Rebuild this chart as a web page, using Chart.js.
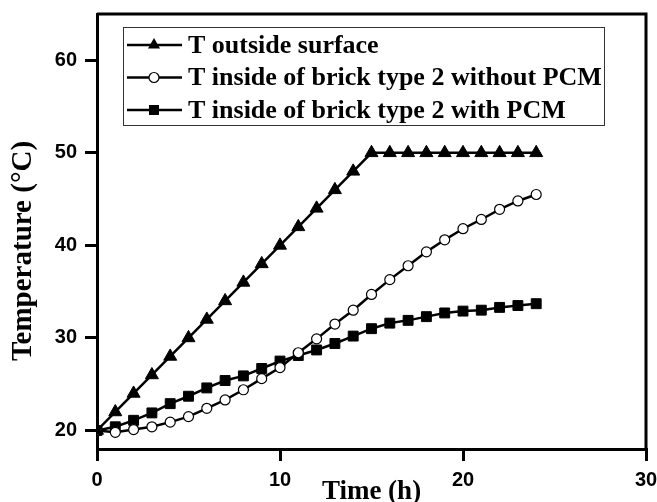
<!DOCTYPE html>
<html>
<head>
<meta charset="utf-8">
<script src="https://cdn.jsdelivr.net/npm/chart.js@4/dist/chart.umd.min.js"></script>
<style>
  html, body { margin: 0; padding: 0; background: #fff; }
  #wrap { width: 657px; height: 502px; position: relative; }
</style>
</head>
<body>
<div id="wrap"><canvas id="chart" width="657" height="502"></canvas></div>
<script>
// hours 0..24
const hours = [0, 1, 2, 3, 4, 5, 6, 7, 8, 9, 10, 11, 12, 13, 14, 15, 16, 17, 18, 19, 20, 21, 22, 23, 24];
const tOutside = [20, 22, 24, 26, 28, 30, 32, 34, 36, 38, 40, 42, 44, 46, 48, 50, 50, 50, 50, 50, 50, 50, 50, 50, 50];
const tWithoutPcm = [20, 19.8, 20.1, 20.4, 20.9, 21.5, 22.4, 23.3, 24.4, 25.6, 26.8, 28.4, 29.9, 31.5, 33.0, 34.7, 36.3, 37.8, 39.3, 40.6, 41.8, 42.8, 43.9, 44.8, 45.5];
const tWithPcm = [20, 20.4, 21.1, 21.9, 22.9, 23.7, 24.6, 25.4, 25.9, 26.7, 27.5, 28.1, 28.7, 29.4, 30.2, 31.0, 31.6, 31.9, 32.3, 32.7, 32.9, 33.0, 33.3, 33.5, 33.7];

const seriesLabels = ['T outside surface', 'T inside of brick type 2 without PCM', 'T inside of brick type 2 with PCM'];
const xTicks = [0, 10, 20, 30];
const yTicks = [20, 30, 40, 50, 60];

function toPoints(values) {
    return hours.map((h, i) => ({ x: h, y: values[i] }));
}

function drawMarker(ctx, style, x, y) {
    ctx.save();
    ctx.lineWidth = 1.2;
    ctx.strokeStyle = '#000';
    ctx.beginPath();
    if (style === 'triangle') {
        const r = 7;
        ctx.moveTo(x, y - r);
        ctx.lineTo(x + r * 0.866, y + r * 0.5);
        ctx.lineTo(x - r * 0.866, y + r * 0.5);
        ctx.closePath();
        ctx.fillStyle = '#000';
        ctx.fill();
    } else if (style === 'circle') {
        ctx.arc(x, y, 5, 0, Math.PI * 2);
        ctx.fillStyle = '#fff';
        ctx.fill();
        ctx.stroke();
    } else {
        ctx.rect(x - 5, y - 5, 10, 10);
        ctx.fillStyle = '#000';
        ctx.fill();
    }
    ctx.restore();
}

// frame on top/right, boxed legend, rotated y title
const framePlugin = {
    id: 'frame',
    afterDraw(chart) {
        const { ctx, chartArea } = chart;
        ctx.save();
        ctx.strokeStyle = '#000';
        ctx.lineWidth = 3;
        ctx.beginPath();
        ctx.moveTo(chartArea.left, chartArea.top);
        ctx.lineTo(chartArea.right, chartArea.top);
        ctx.lineTo(chartArea.right, chartArea.bottom);
        ctx.stroke();

        // legend
        const lx = 123, ly = 27, lw = 481, lh = 98;
        ctx.lineWidth = 1;
        ctx.strokeStyle = '#333';
        ctx.strokeRect(lx + 0.5, ly + 0.5, lw, lh);
        ctx.font = 'bold 26px "Liberation Serif", "Times New Roman", serif';
        ctx.textBaseline = 'middle';
        ctx.fillStyle = '#000';
        chart.data.datasets.forEach((ds, i) => {
            const y = 45 + i * 32.5;
            ctx.strokeStyle = '#000';
            ctx.lineWidth = 2.5;
            ctx.beginPath();
            ctx.moveTo(127, y);
            ctx.lineTo(182, y);
            ctx.stroke();
            drawMarker(ctx, ds.pointStyle, 154, y);
            ctx.fillText(ds.label, 188, y + 1);
        });

        // y title
        ctx.translate(24, 251);
        ctx.rotate(-Math.PI / 2);
        ctx.textAlign = 'center';
        ctx.font = 'bold 29px "Liberation Serif", "Times New Roman", serif';
        ctx.fillText('Temperature (\u00B0C)', 0, 0);
        ctx.restore();
    }
};

const tickFont = { family: '"Liberation Sans", Arial, sans-serif', size: 20, weight: 'bold' };

new Chart(document.getElementById('chart').getContext('2d'), {
    type: 'line',
    data: {
        datasets: [
            {
                label: seriesLabels[0],
                data: toPoints(tOutside),
                borderColor: '#000',
                borderWidth: 2.5,
                pointStyle: 'triangle',
                pointRadius: 7.5,
                pointBackgroundColor: '#000',
                pointBorderColor: '#000',
                pointBorderWidth: 1
            },
            {
                label: seriesLabels[1],
                data: toPoints(tWithoutPcm),
                borderColor: '#000',
                borderWidth: 2.5,
                pointStyle: 'circle',
                pointRadius: 5,
                pointBackgroundColor: '#fff',
                pointBorderColor: '#000',
                pointBorderWidth: 1.2
            },
            {
                label: seriesLabels[2],
                data: toPoints(tWithPcm),
                borderColor: '#000',
                borderWidth: 2.5,
                pointStyle: 'rect',
                pointRadius: 7,
                pointBackgroundColor: '#000',
                pointBorderColor: '#000',
                pointBorderWidth: 1
            }
        ]
    },
    options: {
        responsive: false,
        animation: false,
        layout: { padding: { top: 0, right: 0, left: 0, bottom: 0 } },
        plugins: {
            legend: { display: false },
            tooltip: { enabled: false }
        },
        scales: {
            x: {
                type: 'linear',
                min: 0,
                max: 30,
                afterBuildTicks: scale => { scale.ticks = xTicks.map(v => ({ value: v })); },
                afterFit: scale => { scale.height = 53; scale.paddingRight = 11; },
                border: { display: true, color: '#000', width: 3 },
                grid: { drawOnChartArea: false, drawTicks: true, tickLength: 12, lineWidth: 3, color: '#000' },
                ticks: { color: '#000', font: tickFont, padding: 7, maxRotation: 0 },
                title: {
                    display: true,
                    text: 'Time (h)',
                    color: '#000',
                    font: { family: '"Liberation Serif", "Times New Roman", serif', size: 27, weight: 'bold' },
                    padding: { top: -4, bottom: -6 }
                }
            },
            y: {
                type: 'linear',
                min: 18,
                max: 65,
                afterBuildTicks: scale => { scale.ticks = yTicks.map(v => ({ value: v })); },
                afterFit: scale => { scale.width = 97; scale.paddingTop = 14; },
                border: { display: true, color: '#000', width: 3 },
                grid: { drawOnChartArea: false, drawTicks: true, tickLength: 12, lineWidth: 3, color: '#000' },
                ticks: { color: '#000', font: tickFont, padding: 8 }
            }
        }
    },
    plugins: [framePlugin]
});
</script>
</body>
</html>
